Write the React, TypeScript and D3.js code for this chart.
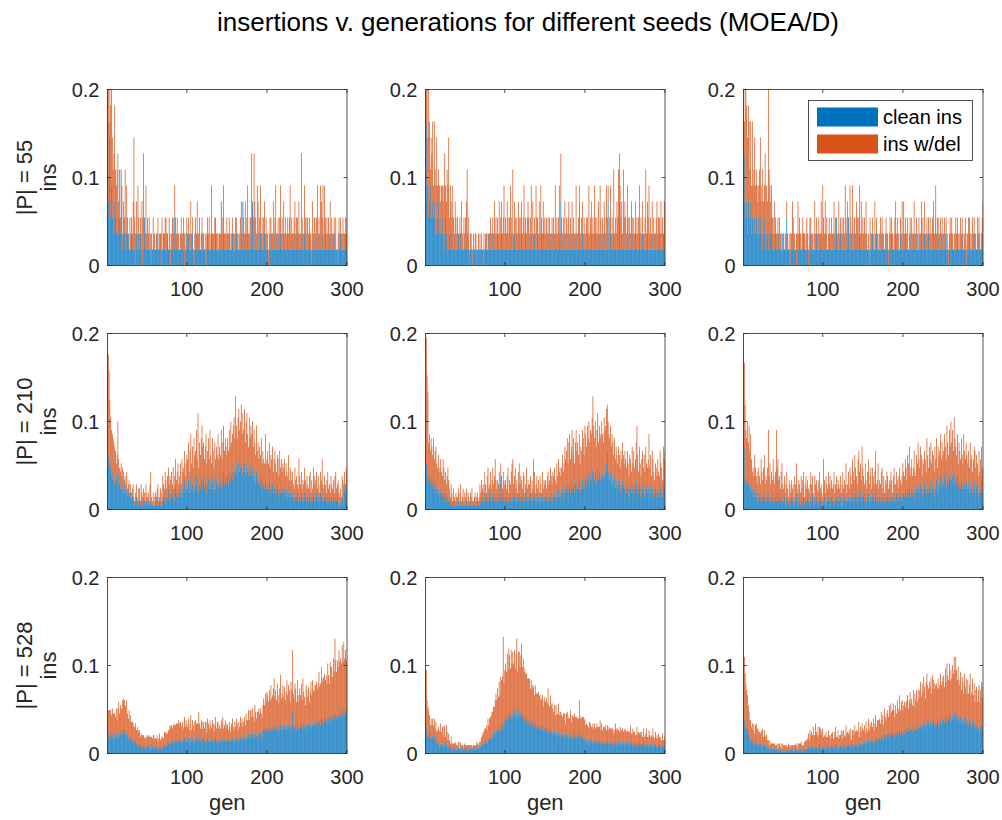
import React from "react";
import * as d3 from "d3";

// ---- data: per-generation counts, encoded one character per generation (0-9a-zA-Z) ----
// value = count / |P|
const CODE = "0123456789abcdefghijklmnopqrstuvwxyzABCDEFGHIJKLMNOPQRSTUVWXYZ";

const popSizes = [55, 210, 528];
const seedLabels = ["seed 1", "seed 2", "seed 3"];
const xTicks = [100, 200, 300];
const yTicks = [0, 0.1, 0.2];
const seriesNames = ["clean ins", "ins w/del"];

// |P| = 55
const cleanP55s1 = [
  "5488353324", "3223232631", "2231222111", "2112102112", "1211013121",
  "1121101121", "1112111011", "2111121110", "1121311211", "1112110112",
  "1211112101", "1121111121", "1110121111", "2111121111", "1141121111",
  "1121112111", "1211111214", "1121121112", "1411211121", "1211112111",
  "1011211112", "1112112111", "2111121111", "2111211211", "1112112111",
  "1121101112", "1111211121", "1121111121", "1112111011", "1211111211",
];
const delP55s1 = [
  "6713765356", "3344231021", "2131310021", "1136222141", "1113360131",
  "2110120201", "0111011220", "0122100211", "1211221111", "0120122011",
  "1111311011", "2121120111", "1011111201", "3111211101", "1101231112",
  "1111011111", "2111012210", "2121231121", "6026221421", "2312122121",
  "1112111311", "4111123121", "2121111241", "1112212113", "1161113212",
  "2111113121", "1241114314", "1411212121", "2111120112", "1111211112",
];
const cleanP55s2 = [
  "9955345334", "3432234232", "2321232121", "2122111211", "1211211121",
  "1121101110", "1111101111", "1101111112", "1111211111", "2111121111",
  "1121111211", "1211111211", "2111121131", "1121112111", "2111121311",
  "1112111121", "1121111214", "1111211112", "1112111121", "1141112111",
  "1121111211", "1121111121", "1112111141", "1211121111", "2141121112",
  "1112111121", "1121111211", "1211111211", "1112111112", "1121111211",
];
const delP55s2 = [
  "2263851545", "2533622322", "3224522537", "1421421221", "2012031011",
  "2341211101", "1011011010", "1011011010", "1211113121", "1131221241",
  "2122124115", "1221213112", "2124111212", "1231311142", "1131411112",
  "1211121111", "2131212313", "2121212122", "1212121131", "1211122121",
  "1211412212", "1411213132", "1212214211", "2312141213", "1534221522",
  "2141121311", "2121212312", "1211251224", "1212121122", "1211312033",
];
const cleanP55s3 = [
  "7743424334", "2332323223", "2322123212", "2123221211", "2111211112",
  "1111311101", "1121110111", "2111121111", "1011211111", "1211111211",
  "1121111211", "1112113111", "1211111121", "1311211112", "1131121111",
  "1112111011", "1211112111", "1112111121", "1011121111", "2111112111",
  "1121111121", "1112111112", "1131112111", "1211111211", "3112111121",
  "1112110111", "2111111211", "1112111101", "1121111121", "1111211112",
];
const delP55s3 = [
  "4278666635", "3624533322", "4532522543", "2a42232113", "1112021100",
  "1011110111", "1311102131", "1101201012", "1112111013", "1111211214",
  "2121201111", "2112120113", "1112121411", "3014114121", "1301231312",
  "1212101121", "1110311110", "1211110111", "1112111012", "2121101131",
  "3111120111", "2112112101", "1111212112", "1112112211", "2121112111",
  "1211011121", "1101121110", "1211101211", "1211012111", "1021110122",
];

// |P| = 210
const cleanP210s1 = [
  "gdcba89786", "7869865756", "4564534534", "2332123212", "2132122132",
  "1212211211", "2123121213", "3243235243", "4352463453", "4536457456",
  "5746856475", "6857465786", "7568467586", "5764857695", "7685796876",
  "8697a879b8", "9a8bc9ab8a", "9b8ac98a9b", "8a79869786", "7685765765",
  "6574656456", "5465354645", "4534534354", "3432433423", "3243324323",
  "3234232342", "3423324323", "2332432323", "3232342321", "1213425465",
];
const delP210s1 = [
  "qolfcb9a89", "737c444434", "5222422212", "2231123113", "3132232132",
  "2214721202", "2233114215", "3354355444", "5353464563", "4636557467",
  "7958a696a8", "8b7g6a8ac9", "979a78a7b7", "6a86878797", "87b79b8987",
  "98a8b8bbb9", "ia9bcabead", "ad8bb97c89", "ab8a87b786", "8796766b57",
  "8696779578", "6577596656", "6757459455", "4533645239", "5452446435",
  "3355243744", "45353254a3", "3532363325", "3342553353", "2325344243",
];
const cleanP210s2 = [
  "hba8786786", "7567545345", "4354342342", "2122121121", "1211211211",
  "1211211121", "1121121122", "3232432342", "3423432432", "3243832432",
  "3234232343", "2342323423", "3243234232", "3423243234", "2324323243",
  "3234233423", "3432435343", "4534645645", "6457564675", "6574657658",
  "768796879a", "87968a7987", "987a89be98", "7968768576", "5764657656",
  "5465365465", "6457654653", "5645365456", "4536543543", "5436543758",
];
const delP210s2 = [
  "aumk9a8a77", "a788668667", "5576454565", "3242132122", "2313412313",
  "2313113231", "1221221242", "4332532563", "3534636843", "4453353544",
  "4356244679", "4563426745", "4355236344", "3424386234", "3424326333",
  "4355447446", "5644757665", "6867989b7b", "c8ac8b7ac9", "a8b799cb8c",
  "b9cacabbdh", "cac9bd9baa", "ca9cbbdbca", "ab9a979787", "6876879768",
  "7686577596", "8679e85965", "786869667c", "6858754665", "7558664876",
];
const cleanP210s3 = [
  "nf78676856", "4534534234", "3243234232", "3423232432", "3248232342",
  "2312321322", "3221324213", "2132231232", "3212324213", "2321232321",
  "2313223242", "3223123223", "2312423232", "2324323423", "4323534234",
  "3243234233", "2432352342", "3234232324", "3232432343", "2432343234",
  "4354354634", "5346435465", "4653546547", "5465746536", "5746568576",
  "6875976879", "7869876857", "6576586576", "5647564576", "4653645745",
];
const delP210s3 = [
  "gkibbeac9c", "8474874466", "5486579455", "7f68465854", "6h64553674",
  "3534632442", "4342547334", "4353562453", "4334644225", "4433563322",
  "a435436443", "4346345353", "3534534482", "463654955a", "65499675c6",
  "5474368457", "3654694473", "4466352445", "5344542563", "4543564457",
  "5576487956", "75685587a7", "698577875a", "8697978869", "7a6988a797",
  "8a87b97b8c", "9b8d987a69", "87a76a8797", "6869775788", "6765857864",
];

// |P| = 528
const cleanP528s1 = [
  "lcad9bc8ab", "ac9bdacebd", "fcebda9b8a", "8796875765", "6456354354",
  "4534634534", "3542343543", "4564576857", "6879687a87", "978698a798",
  "7968a79869", "8a79c879a8", "978a698798", "79868a7987", "8798a78978",
  "879879a879", "8a9798a9b8", "9a8b9ac9bd", "acb9dcabdc", "bdcaefdgef",
  "fegdhfegif", "gehfdgiefh", "fhegifhgei", "hpgfihejgf", "hgifjhgeih",
  "gifhjgihki", "jhkiljhmki", "ljmkinljmo", "mknlpomknt", "omqnpsoqrp",
];
const delP528s1 = [
  "tegdhcfged", "cfbgiehdgj", "ikfhjecfbd", "bc9a8b97a8", "8675865746",
  "7586475685", "6475685467", "58697586c9", "b7a8c9b8ad", "9c8ba7c9ba",
  "9c8ad7b98a", "c8b9da8b97", "a8b97ca8b9", "8ba79c8ab8", "98bac89b8a",
  "97a869b87a", "8b97a8c9a8", "ac9dbaebfd", "cfbagdbecf", "decbfigkhm",
  "khmjoilnrj", "mipkhntjlo", "jnilqkomhp", "lBkiomhpjg", "mjohqkifnl",
  "imgkojqlhn", "mqjoslpunr", "ptmrovqnxs", "uqysIwrAtx", "vzsGuDxAtv",
];
const cleanP528s2 = [
  "igcbad9cab", "9b8a765746", "5645746535", "4354234352", "3423423324",
  "3243234232", "3423534345", "4657687698", "a8b9cadced", "fegdhifjhk",
  "mloknpmolq", "npmrolqnmp", "omnlkmjlik", "jhkilhgjif", "hgifehgdfg",
  "fdgecfdecd", "cebdcadbca", "bcadb9cab9", "ac9bad9bac", "9bda9ca8b9",
  "8796879867", "7869786786", "8675876876", "7685765768", "6756857657",
  "6756857656", "7564765765", "6574656456", "5645745645", "4564535453",
];
const delP528s2 = [
  "wykhga897a", "8a7968b79c", "8a7c96b857", "4352432413", "2314232132",
  "2312321322", "2132231432", "658697a8c9", "becgdifkmj", "okrmtqvPpu",
  "wsAuEytCxz", "vBtxJszCuy", "Guysvqtorp", "qmolknjmil", "jlhkigjfhi",
  "gkephdmfie", "dfcgbehcdf", "caebd9cfad", "beacd9fbca", "cajbd9ceab",
  "9b8a7c98ab", "8a97b8a9c8", "a89b7a897a", "897a869b87", "978a698798",
  "869758a679", "6857968576", "7586479658", "6475864756", "5746357453",
];
const cleanP528s3 = [
  "pligefcb98", "7867586756", "5647546545", "3423423243", "2321322312",
  "2132123122", "3212322132", "2322132323", "3435435434", "5435463454",
  "4354634534", "5434564354", "3546453465", "4564536546", "5465746576",
  "6758679687", "87968a798a", "98b9a8ca9b", "cadbcebdca", "dbecdfcedb",
  "ecfdgedfhe", "fdgehfegif", "ghfigjhfik", "hjgikhjlig", "jhkigljhmk",
  "limjnklojm", "knlpoqmknl", "jmilkhmjli", "khjmigkhjf", "igehfdgieh",
];
const delP528s3 = [
  "ABuqokhebc", "9a8b79c8a7", "8697a68576", "5435243423", "3242342324",
  "3423423432", "2343243234", "4353425465", "68597a6c87", "d98b7ac89b",
  "685947a685", "79658a6795", "86a75986b7", "9786a5897b", "8a79c6a8b9",
  "8a7b96c8a9", "b9c8ad9bca", "caebd9fcbd", "ecgdibfhec", "gdifckehjf",
  "fjdiglehkg", "igmejhofki", "mqjolrnips", "okrmpjsnlq", "mpjrnktolq",
  "qmtovrnups", "purxqwsotn", "mrkpnjqloi", "ojmqhlping", "kohlqimpjn",
];

const cleanRows = [
  [cleanP55s1, cleanP55s2, cleanP55s3],
  [cleanP210s1, cleanP210s2, cleanP210s3],
  [cleanP528s1, cleanP528s2, cleanP528s3],
];
const delRows = [
  [delP55s1, delP55s2, delP55s3],
  [delP210s1, delP210s2, delP210s3],
  [delP528s1, delP528s2, delP528s3],
];

const NGEN = 300;
const gens = d3.range(1, NGEN + 1);

function decode(chunks: string[]): number[] {
  const s = chunks.join("");
  return gens.map((_, i) => {
    const k = CODE.indexOf(s.charAt(i));
    return k < 0 ? 0 : k;
  });
}

// ---- layout ----
const W = 1002;
const H = 820;
const COL_LEFT = [107.5, 425.5, 743.5];
const ROW_TOP = [89.5, 333.5, 577.5];
const PW = 239.5;
const PH = 176;
const FONT = "'Liberation Sans', Arial, Helvetica, sans-serif";
const AX = "#262626";
const BLUE = "#0072BD";
const ORANGE = "#D95319";
const TICK = 3.5;
const BAR_FRAC = 0.9;

type Row = { gen: number; clean: number; del: number };

function Panel({ row, col }: { row: number; col: number }) {
  const left = COL_LEFT[col];
  const top = ROW_TOP[row];
  const x = d3.scaleLinear().domain([1, NGEN]).range([left, left + PW]);
  const y = d3.scaleLinear().domain([0, 0.2]).range([top + PH, top]);
  const n = popSizes[row];
  const clean = decode(cleanRows[row][col]);
  const del = decode(delRows[row][col]);
  const table: Row[] = gens.map((g, i) => ({ gen: g, clean: clean[i] / n, del: del[i] / n }));
  const stacked = d3.stack<Row>().keys(["clean", "del"])(table);
  const bw = (x(2) - x(1)) * BAR_FRAC;
  const colors = [BLUE, ORANGE];
  const clipId = `clip-${row}-${col}`;
  const labelY = top + PH / 2;

  return (
    <g>
      <clipPath id={clipId}>
        <rect x={left} y={top} width={PW} height={PH} />
      </clipPath>
      <rect x={left} y={top} width={PW} height={PH} fill="#fff" />
      <g clipPath={`url(#${clipId})`}>
        {stacked.map((s, si) => (
          <g key={s.key} fill={colors[si]}>
            {s.map((d, i) => {
              const y0 = y(d[0]);
              const y1 = y(d[1]);
              if (y0 - y1 <= 0) return null;
              return (
                <rect
                  key={i}
                  x={x(table[i].gen) - bw / 2}
                  y={y1}
                  width={bw}
                  height={y0 - y1}
                />
              );
            })}
          </g>
        ))}
      </g>
      {/* ticks, inward on all four sides */}
      <g stroke={AX} strokeWidth={0.8}>
        {xTicks.map((t) => (
          <g key={t}>
            <line x1={x(t)} x2={x(t)} y1={top + PH} y2={top + PH - TICK} />
            <line x1={x(t)} x2={x(t)} y1={top} y2={top + TICK} />
          </g>
        ))}
        {yTicks.map((t) => (
          <g key={t}>
            <line x1={left} x2={left + TICK} y1={y(t)} y2={y(t)} />
            <line x1={left + PW} x2={left + PW - TICK} y1={y(t)} y2={y(t)} />
          </g>
        ))}
      </g>
      <rect x={left} y={top} width={PW} height={PH} fill="none" stroke={AX} strokeWidth={0.8} />
      <g fontFamily={FONT} fontSize={20} fill={AX}>
        {xTicks.map((t) => (
          <text key={t} x={x(t)} y={top + PH + 30.5} textAnchor="middle">
            {t}
          </text>
        ))}
        {yTicks.map((t) => (
          <text key={t} x={left - 8} y={y(t) + 7} textAnchor="end">
            {t === 0 ? "0" : String(t)}
          </text>
        ))}
      </g>
      {col === 0 && (
        <g fontFamily={FONT} fontSize={22} fill={AX} textAnchor="middle">
          <text x={32} y={labelY} transform={`rotate(-90, 32, ${labelY})`}>
            {`|P| = ${popSizes[row]}`}
          </text>
          <text x={56} y={labelY} transform={`rotate(-90, 56, ${labelY})`}>
            ins
          </text>
        </g>
      )}
      {row === 2 && (
        <text
          x={left + PW / 2}
          y={810}
          textAnchor="middle"
          fontFamily={FONT}
          fontSize={22}
          fill={AX}
        >
          gen
        </text>
      )}
      {row === 0 && col === 2 && <Legend />}
    </g>
  );
}

function Legend() {
  const bx = 808.5;
  const by = 100.5;
  const bwid = 164;
  const bh = 60;
  const rows = [
    { name: seriesNames[0], color: BLUE, y: 107.5 },
    { name: seriesNames[1], color: ORANGE, y: 134.5 },
  ];
  return (
    <g>
      <rect x={bx} y={by} width={bwid} height={bh} fill="#fff" stroke={AX} strokeWidth={0.8} />
      {rows.map((r) => (
        <g key={r.name}>
          <rect x={817} y={r.y} width={61} height={19} fill={r.color} />
          <text x={883} y={r.y + 9.5 + 7} fontFamily={FONT} fontSize={20} fill="#000">
            {r.name}
          </text>
        </g>
      ))}
    </g>
  );
}

export default function App() {
  return (
    <svg
      width={W}
      height={H}
      viewBox={`0 0 ${W} ${H}`}
      style={{ position: "absolute", left: 0, top: 0, background: "#fff" }}
    >
      <rect x={0} y={0} width={W} height={H} fill="#fff" />
      <text
        x={528}
        y={31}
        textAnchor="middle"
        fontFamily={FONT}
        fontSize={26}
        fill="#000"
      >
        insertions v. generations for different seeds (MOEA/D)
      </text>
      {popSizes.map((_, r) =>
        seedLabels.map((__, c) => <Panel key={`${r}-${c}`} row={r} col={c} />)
      )}
    </svg>
  );
}
